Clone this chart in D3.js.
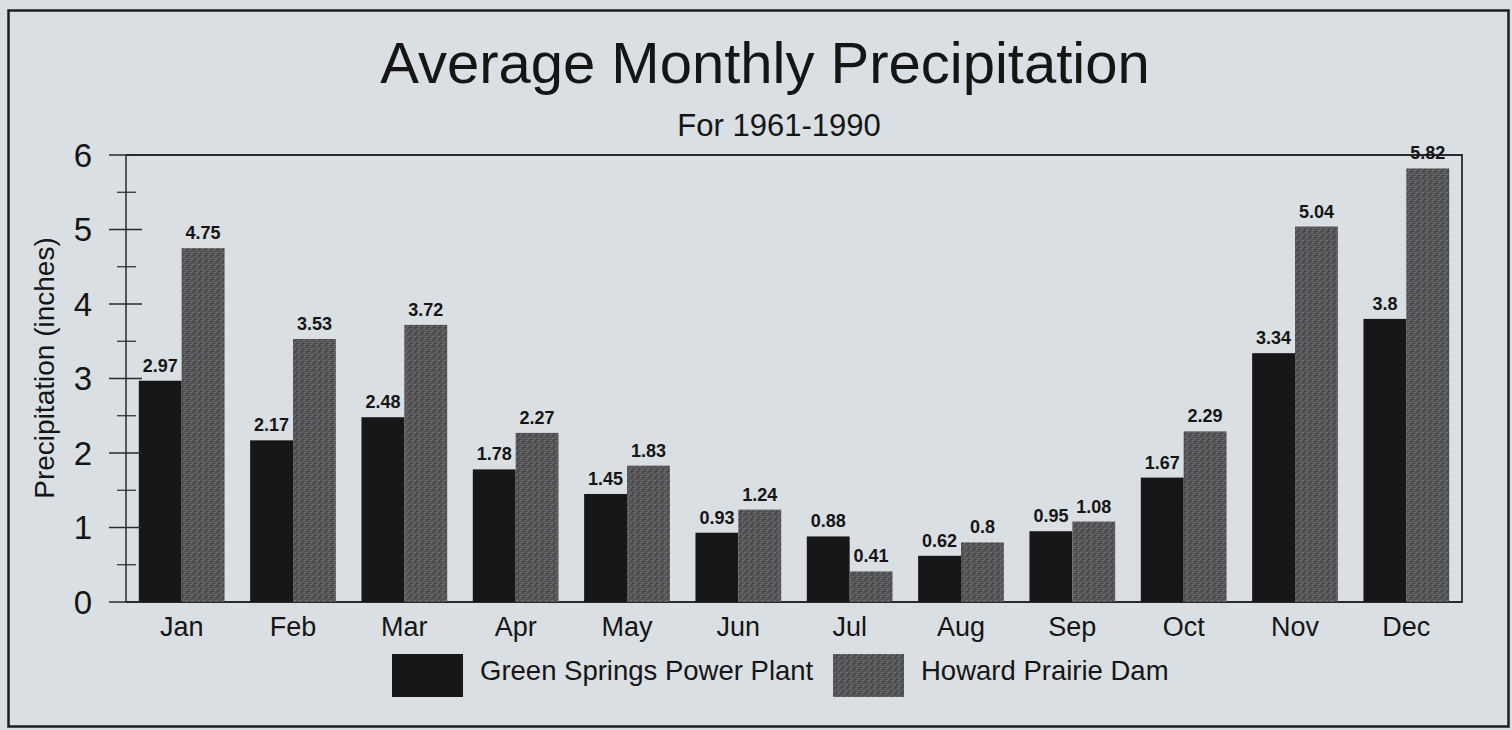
<!DOCTYPE html>
<html><head><meta charset="utf-8">
<script src="https://cdn.jsdelivr.net/npm/d3@7"></script>
<style>
html,body{margin:0;padding:0;background:#d9dfe3;}
svg{display:block;font-family:"Liberation Sans",Arial,sans-serif;}
</style></head>
<body>
<svg id="chart" width="1512" height="730"></svg>
<script>
const months = ["Jan","Feb","Mar","Apr","May","Jun","Jul","Aug","Sep","Oct","Nov","Dec"];
const seriesNames = ["Green Springs Power Plant","Howard Prairie Dam"];
const greenSprings = [2.97,2.17,2.48,1.78,1.45,0.93,0.88,0.62,0.95,1.67,3.34,3.8];
const howardPrairie = [4.75,3.53,3.72,2.27,1.83,1.24,0.41,0.8,1.08,2.29,5.04,5.82];
const yTicks = [0,1,2,3,4,5,6];
const yMinorTicks = [0.5,1.5,2.5,3.5,4.5,5.5];
const titleText = "Average Monthly Precipitation";
const subtitleText = "For 1961-1990";
const yAxisLabel = "Precipitation (inches)";

const svg = d3.select("#chart");
const W = 1512, H = 730;
const m = {left:126, right:1462, top:155, bottom:602};

svg.append("rect").attr("x",0).attr("y",0).attr("width",W).attr("height",H).attr("fill","#d9dfe3");

// texture pattern for gray bars
const defs = svg.append("defs");
const pat = defs.append("pattern").attr("id","grayTex").attr("patternUnits","userSpaceOnUse")
  .attr("width",6).attr("height",6);
pat.append("rect").attr("width",6).attr("height",6).attr("fill","#565658");
[[0,0,"#6e6e70"],[2,1,"#46464a"],[4,2,"#707072"],[1,3,"#424244"],[3,4,"#6a6a6c"],[5,5,"#48484a"],[0,4,"#505052"],[4,0,"#5e5e60"]]
  .forEach(([x,y,c])=>pat.append("rect").attr("x",x).attr("y",y).attr("width",2).attr("height",1).attr("fill",c));

// outer border
svg.append("rect").attr("x",8.5).attr("y",10.5).attr("width",1500).attr("height",716)
  .attr("fill","none").attr("stroke","#1e1e1e").attr("stroke-width",2.5);

const x0 = d3.scaleBand().domain(months).range([m.left,m.right]).paddingInner(0.23).paddingOuter(0.115);
const x1 = d3.scaleBand().domain([0,1]).range([0,x0.bandwidth()]).padding(0);
const y = d3.scaleLinear().domain([0,6]).range([m.bottom,m.top]);

// title
svg.append("text").attr("x",765).attr("y",83).attr("text-anchor","middle")
  .attr("font-size",58).attr("fill","#151515").text(titleText);
svg.append("text").attr("x",779).attr("y",136).attr("text-anchor","middle")
  .attr("font-size",31).attr("fill","#151515").text(subtitleText);

// plot frame
svg.append("path").attr("d",`M${m.left},${m.top}H${m.right}V${m.bottom}H${m.left}`)
  .attr("fill","none").attr("stroke","#2a2a2a").attr("stroke-width",1.8);

// bars
const data = months.map((mo,i)=>({mo, vals:[greenSprings[i],howardPrairie[i]]}));
const fills = ["#17171a","url(#grayTex)"];
const g = svg.append("g");
data.forEach(d=>{
  d.vals.forEach((v,k)=>{
    const bx = x0(d.mo)+x1(k);
    g.append("rect").attr("x",bx).attr("y",y(v)).attr("width",x1.bandwidth())
      .attr("height",y(0)-y(v)).attr("fill",fills[k]);
    g.append("text").attr("x",bx+x1.bandwidth()/2).attr("y",y(v)-9)
      .attr("text-anchor","middle").attr("font-size",18).attr("font-weight","bold")
      .attr("fill","#151515").text(v);
  });
});

// y axis
const yAxisG = svg.append("g");
yAxisG.append("line").attr("x1",m.left).attr("x2",m.left).attr("y1",m.top).attr("y2",m.bottom)
  .attr("stroke","#2a2a2a").attr("stroke-width",1.5);
yTicks.forEach(t=>{
  yAxisG.append("line").attr("x1",m.left-17).attr("x2",m.left+16).attr("y1",y(t)).attr("y2",y(t))
    .attr("stroke","#2a2a2a").attr("stroke-width",1.3);
  yAxisG.append("text").attr("x",92).attr("y",y(t)).attr("dy","0.36em").attr("text-anchor","end")
    .attr("font-size",33).attr("fill","#151515").text(t);
});
yMinorTicks.forEach(t=>{
  yAxisG.append("line").attr("x1",m.left-9).attr("x2",m.left+10).attr("y1",y(t)).attr("y2",y(t))
    .attr("stroke","#2a2a2a").attr("stroke-width",1.2);
});
svg.append("text").attr("transform",`translate(54,368) rotate(-90)`).attr("text-anchor","middle")
  .attr("font-size",28).attr("fill","#151515").text(yAxisLabel);

// x labels
months.forEach(mo=>{
  svg.append("text").attr("x",x0(mo)+x0.bandwidth()/2).attr("y",636).attr("text-anchor","middle")
    .attr("font-size",27).attr("fill","#151515").text(mo);
});

// legend
const legendItems = [
  {name:seriesNames[0], fill:fills[0], x:392},
  {name:seriesNames[1], fill:fills[1], x:833}
];
legendItems.forEach(it=>{
  svg.append("rect").attr("x",it.x).attr("y",654).attr("width",71).attr("height",43).attr("fill",it.fill);
  svg.append("text").attr("x",it.x+88).attr("y",680).attr("font-size",27.5).attr("fill","#151515").text(it.name);
});
</script>
</body></html>
